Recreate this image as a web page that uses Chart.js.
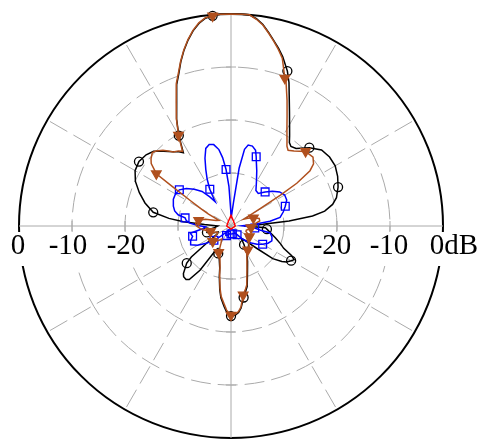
<!DOCTYPE html>
<html>
<head>
<meta charset="utf-8">
<script src="https://cdn.jsdelivr.net/npm/chart.js@4/dist/chart.umd.min.js"></script>
<style>
  html, body { margin: 0; padding: 0; background: #fff; overflow: hidden; }
  canvas { display: block; }
</style>
</head>
<body>
<canvas id="pattern" width="478" height="439"></canvas>
<script>
// Radiation pattern cuts: [azimuth in degrees, clockwise from top, relative gain in dB]
const blackCut = [
  [-180,-23.0],[-177,-23.8],[-175,-24.8],[-172,-26.3],[-170,-27.8],[-167,-30.2],[-165,-31.8],[-160,-33.5],
  [-155,-34.3],[-150,-35.0],[-147,-33.8],[-145,-29.8],[-142,-27.2],[-140,-26.8],[-137,-26.9],[-135,-27.3],
  [-130,-29.1],[-128,-30.5],[-125,-34.5],[-120,-37.0],[-115,-37.3],[-110,-36.0],[-105,-35.3],[-100,-35.5],
  [-95,-37.0],[-90,-37.5],[-87,-35.0],[-85,-31.0],[-83,-28.2],[-80,-25.1],[-75,-23.2],[-70,-21.6],
  [-65,-20.1],[-60,-19.1],[-55,-18.8],[-50,-19.1],[-46,-19.7],[-42,-21.0],[-38,-22.2],[-35,-22.9],
  [-33,-23.5],[-30,-20.3],[-27,-17.4],[-24,-14.8],[-21,-11.4],[-19,-9.7],[-17,-7.6],[-15,-5.7],
  [-13,-4.0],[-11,-2.5],[-9,-1.3],[-7,-0.5],[-5,-0.2],[-3,0],[0,0],[3,0],[5,0],[7,-0.6],[9,-1.5],
  [11,-2.8],[13,-4.1],[15,-5.3],[17,-6.6],[20,-8.9],[22,-10.8],[24,-13.0],[27,-15.7],[30,-17.9],
  [33,-19.7],[35,-20.8],[37,-21.2],[40,-20.9],[45,-19.1],[50,-17.7],[55,-17.3],[60,-17.3],[65,-17.8],
  [70,-18.5],[75,-19.4],[78,-20.4],[81,-22.1],[83,-24.5],[85,-29.0],[87,-34.0],[90,-37.5],[93,-33.5],
  [95,-33.2],[100,-32.4],[105,-31.3],[110,-30.0],[113,-29.2],[116,-27.3],[118,-26.5],[120,-26.9],
  [123,-27.5],[125,-28.3],[128,-30.0],[131,-33.6],[135,-35.8],[140,-37.0],[145,-35.7],[150,-34.0],
  [155,-32.6],[160,-30.9],[165,-28.2],[167,-27.5],[170,-26.3],[173,-24.4],[175,-23.6],[177,-23.2]
];

const brownCut = [
  [-180,-23.2],[-177,-24.1],[-175,-25.2],[-172,-26.6],[-170,-28.1],[-167,-30.5],[-165,-32.0],[-160,-33.9],
  [-155,-34.5],[-150,-36.2],[-145,-37.0],[-140,-36.5],[-135,-36.0],[-130,-35.5],[-125,-36.2],[-120,-37.0],
  [-115,-37.2],[-110,-36.5],[-105,-36.0],[-100,-35.2],[-95,-34.2],[-90,-33.5],[-85,-33.3],[-80,-33.8],
  [-75,-35.0],[-70,-37.0],[-65,-37.5],[-62,-35.2],[-60,-33.5],[-58,-31.0],[-56,-26.6],[-55,-22.8],
  [-52,-20.9],[-50,-20.3],[-47,-19.7],[-45,-20.0],[-42,-20.8],[-40,-21.5],[-38,-22.3],[-35,-22.7],
  [-33,-23.2],[-30,-20.2],[-27,-17.3],[-24,-14.6],[-21,-11.2],[-19,-9.5],[-17,-7.5],[-15,-5.6],
  [-13,-3.9],[-11,-2.4],[-9,-1.2],[-7,-0.4],[-5,-0.2],[-3,0],[0,0],[3,0],[5,0],[7,-0.7],[9,-1.6],
  [11,-2.9],[13,-4.2],[15,-5.5],[17,-6.9],[20,-10.3],[21,-11.0],[24,-14.0],[27,-16.7],[30,-18.9],
  [33,-20.6],[35,-21.6],[37,-22.1],[40,-21.5],[45,-20.1],[50,-19.8],[53,-20.5],[55,-21.8],[57,-25.2],
  [58,-29.0],[59,-33.5],[60,-35.5],[62,-37.2],[65,-36.5],[70,-35.5],[75,-34.5],[80,-34.5],[85,-35.5],
  [90,-37.0],[95,-36.2],[100,-36.5],[105,-37.0],[110,-37.0],[115,-36.5],[120,-36.0],[125,-36.5],
  [130,-36.0],[135,-35.2],[140,-34.6],[145,-34.5],[150,-34.0],[155,-32.9],[160,-31.2],[165,-28.5],
  [167,-27.8],[170,-26.8],[173,-24.6],[175,-23.8],[177,-23.4]
];

const blueCut = [
  [-180,-38.5],[-170,-38.5],[-160,-38.2],[-155,-38.0],[-150,-38.0],[-145,-38.5],[-140,-38.3],[-135,-37.3],
  [-130,-35.8],[-125,-34.3],[-120,-32.7],[-115,-31.6],[-110,-31.9],[-105,-32.5],[-100,-32.2],[-96,-34.5],
  [-92,-35.2],[-89,-33.8],[-86,-32.2],[-83,-31.5],[-80,-31.2],[-78,-29.8],[-75,-29.0],[-71,-28.5],
  [-65,-28.0],[-60,-27.9],[-55,-28.1],[-50,-29.0],[-45,-30.2],[-40,-31.5],[-36,-33.2],[-33,-34.5],
  [-31,-33.0],[-30,-32.0],[-27,-30.1],[-24,-28.3],[-21,-26.3],[-18,-24.6],[-15,-24.1],[-12,-24.3],
  [-9,-25.4],[-7,-27.0],[-5,-29.3],[-3,-32.5],[-1,-37.0],[1,-38.5],[4,-37.5],[6,-35.5],[8,-29.0],
  [10,-25.3],[12,-24.4],[15,-24.4],[18,-25.0],[20,-26.1],[22,-27.2],[25,-28.5],[30,-30.4],[35,-31.8],
  [40,-32.0],[45,-30.9],[50,-29.8],[55,-28.8],[60,-28.3],[65,-28.4],[70,-29.1],[75,-29.8],[80,-30.6],
  [83,-32.6],[86,-35.5],[89,-37.8],[92,-36.5],[95,-35.5],[98,-34.5],[100,-32.5],[105,-32.0],[110,-31.8],
  [115,-32.3],[120,-33.1],[125,-34.0],[130,-35.0],[135,-36.0],[140,-37.0],[145,-38.0],[150,-38.5],
  [160,-38.5],[170,-38.5]
];

const redCut = [
  [-90,-39.2],[-30,-39.0],[0,-38.0],[30,-39.0],[90,-39.2],[180,-39.4]
];

// Scale range and annotation along the horizontal diameter
const DB_MIN = -40;
const DB_MAX = 0;
const DB_STEP = 10;
const leftTickValues = [0, -10, -20];
const leftTickLabels = ['0', '-10', '-20'];
const rightTickValues = [-20, -10, 0];
const rightTickLabels = ['-20', '-10', '0dB'];

// Symbols sit every 25 degrees, starting from the back direction (-180)
const MARKER_FIRST = -180;
const MARKER_STEP = 25;

const azimuths = Array.from({ length: 360 }, (_, i) => i);

function toSeries(cut) {
  const values = azimuths.map(() => null);
  cut.forEach(([az, gain]) => { values[((az % 360) + 360) % 360] = gain; });
  return values;
}

function isMarker(index) {
  const az = index >= 180 ? index - 360 : index;
  return (az - MARKER_FIRST) % MARKER_STEP === 0;
}

function cutDataset(cut, color, style, radius, rotation, fillColor) {
  return {
    data: toSeries(cut),
    borderColor: color,
    borderWidth: 1.5,
    fill: false,
    tension: 0,
    spanGaps: true,
    pointStyle: style,
    pointRotation: rotation,
    pointBackgroundColor: fillColor,
    pointBorderColor: color,
    pointBorderWidth: 1.3,
    pointRadius: (ctx) => (radius && isMarker(ctx.index) ? radius : 0),
    pointHoverRadius: 0,
    pointHitRadius: 0
  };
}

const GRID_GREY = '#aaaaaa';

// Tick marks on the two diameters and the dB labels under the horizontal one
const axisAnnotation = {
  id: 'axisAnnotation',
  beforeDatasetsDraw(chart) {
    const s = chart.scales.r;
    const ctx = chart.ctx;
    const cx = s.xCenter, cy = s.yCenter;
    ctx.save();
    ctx.strokeStyle = GRID_GREY;
    ctx.lineWidth = 1;
    for (let v = DB_MIN + DB_STEP; v < DB_MAX; v += DB_STEP) {
      const d = s.getDistanceFromCenterForValue(v);
      ctx.beginPath();
      ctx.moveTo(cx - d, cy - 5); ctx.lineTo(cx - d, cy + 5);
      ctx.moveTo(cx + d, cy - 5); ctx.lineTo(cx + d, cy + 5);
      ctx.moveTo(cx - 5, cy - d); ctx.lineTo(cx + 5, cy - d);
      ctx.moveTo(cx - 5, cy + d); ctx.lineTo(cx + 5, cy + d);
      ctx.stroke();
    }

    ctx.font = '29px "Liberation Serif", "Times New Roman", serif';
    ctx.textBaseline = 'alphabetic';
    const baseY = cy + 28;
    const put = (text, centerX, alignRight) => {
      const w = ctx.measureText(text).width;
      const x0 = alignRight ? centerX - w : centerX - w / 2;
      ctx.fillStyle = '#ffffff';
      ctx.fillRect(x0 - 2, baseY - 22, w + 4, 34);
      ctx.fillStyle = '#000000';
      ctx.textAlign = 'left';
      ctx.fillText(text, x0, baseY);
    };
    const leftShift = [-1, -4, 1];
    leftTickValues.forEach((v, i) => {
      put(leftTickLabels[i], cx - s.getDistanceFromCenterForValue(v) + leftShift[i], false);
    });
    const rightShift = [-5, -1, 35];
    rightTickValues.forEach((v, i) => {
      const x = cx + s.getDistanceFromCenterForValue(v) + rightShift[i];
      put(rightTickLabels[i], x, v === DB_MAX);
    });
    ctx.restore();
  }
};

new Chart(document.getElementById('pattern'), {
  type: 'radar',
  data: {
    labels: azimuths,
    datasets: [
      cutDataset(redCut, '#ff0000', 'circle', 0, 0, 'rgba(0,0,0,0)'),
      cutDataset(brownCut, '#b0501e', 'triangle', 5.5, 180, '#b0501e'),
      cutDataset(blueCut, '#0000ff', 'rect', 5.5, 0, 'rgba(0,0,0,0)'),
      cutDataset(blackCut, '#000000', 'circle', 4.5, 0, 'rgba(0,0,0,0)')
    ]
  },
  options: {
    responsive: false,
    devicePixelRatio: 1,
    animation: false,
    events: [],
    layout: { padding: { left: 0, right: 16, top: 14, bottom: 1 } },
    plugins: { legend: { display: false }, tooltip: { enabled: false } },
    scales: {
      r: {
        min: DB_MIN,
        max: DB_MAX,
        startAngle: 0,
        ticks: { display: false, stepSize: DB_STEP },
        pointLabels: { display: false },
        grid: {
          circular: true,
          color: (ctx) => ctx.tick.value === DB_MAX ? '#000000' : (ctx.tick.value === DB_MIN ? 'rgba(0,0,0,0)' : GRID_GREY),
          lineWidth: (ctx) => ctx.tick.value === DB_MAX ? 2 : 1
        },
        border: {
          dash: (ctx) => ctx.tick && ctx.tick.value === DB_MAX ? [] : [20, 7]
        },
        angleLines: {
          display: true,
          color: GRID_GREY,
          lineWidth: (ctx) => ctx.index % 30 === 0 ? 1 : 0,
          borderDash: (ctx) => ctx.index % 90 === 0 ? [] : [20, 7]
        }
      }
    }
  },
  plugins: [axisAnnotation]
});
</script>
</body>
</html>
